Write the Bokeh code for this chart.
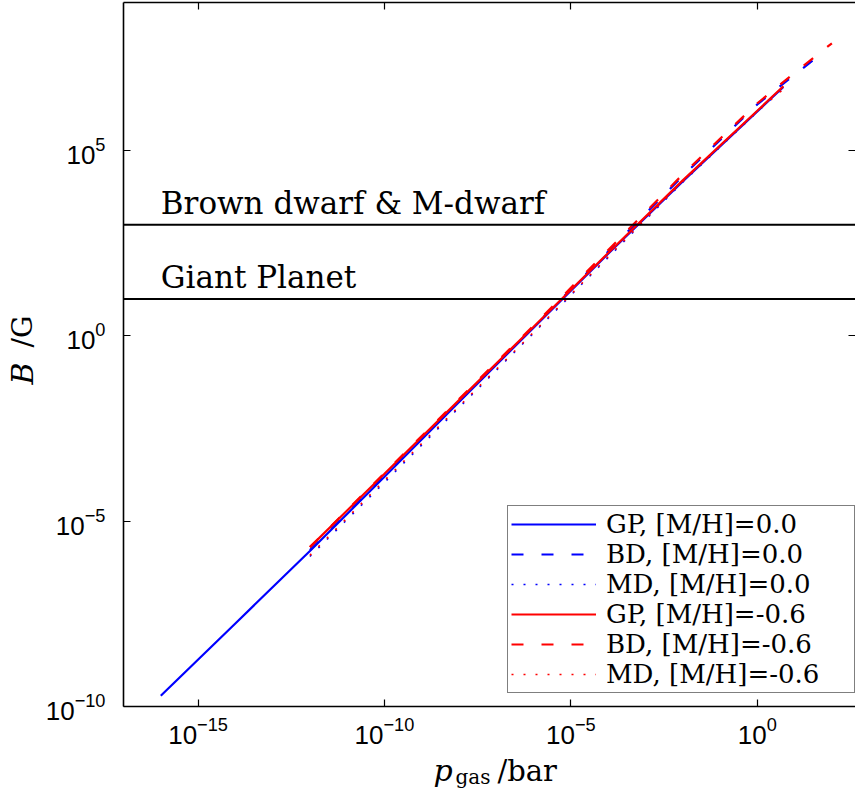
import math
from bokeh.plotting import figure
from bokeh.layouts import row, column
from bokeh.models import (Range1d, FixedTicker, LogAxis, Span, Label, Legend,
                          LegendItem, CustomJSTickFormatter)
from bokeh.core.properties import value
from bokeh.embed import file_html
from bokeh.resources import INLINE

# ---------------- data ----------------
# gas pressure / bar and field strength / G
p_gp0 = [1e-16, 1e-14, 1e-12, 1e-10, 1e-8, 1e-6, 1e-4, 1e-2, 1e0, 5e0]
B_gp0 = [1.95e-10, 1.74e-8, 1.58e-6, 1.58e-4, 1.66e-2, 1.66, 166, 1.48e4, 1.15e6, 5.25e6]

p_bd0 = [1e-12, 1e-10, 1e-8, 1e-6, 1e-4, 1e-2, 1e0, 1e1, 7e1]
B_bd0 = [1.66e-6, 1.66e-4, 1.70e-2, 1.74, 191, 2.09e4, 1.78e6, 1.12e7, 5.25e7]

p_md0 = [1e-12, 1e-10, 1e-8, 1e-6, 1e-4, 1e-2, 1e0, 5e0]
B_md0 = [1.12e-6, 1.12e-4, 1.17e-2, 1.20, 132, 1.41e4, 1.12e6, 5.0e6]

p_gp6 = [1e-12, 1e-10, 1e-8, 1e-6, 1e-4, 1e-2, 1e0, 5e0]
B_gp6 = [2.0e-6, 1.91e-4, 1.86e-2, 1.78, 174, 1.58e4, 1.20e6, 5.5e6]

p_bd6 = [1e-12, 1e-10, 1e-8, 1e-6, 1e-4, 1e-2, 1e0, 1e1, 1e2]
B_bd6 = [2.0e-6, 2.0e-4, 2.0e-2, 1.91, 209, 2.29e4, 1.91e6, 1.26e7, 7.94e7]

p_md6 = [1e-12, 1e-10, 1e-8, 1e-6, 1e-4, 1e-2, 1e0, 5e0]
B_md6 = [1.20e-6, 1.26e-4, 1.26e-2, 1.26, 138, 1.48e4, 1.17e6, 4.57e6]

series_labels = ["GP, [M/H]=0.0", "BD, [M/H]=0.0", "MD, [M/H]=0.0",
                 "GP, [M/H]=-0.6", "BD, [M/H]=-0.6", "MD, [M/H]=-0.6"]

field_levels = [1e3, 1e1]
field_names = ["Brown dwarf & M-dwarf", "Giant Planet"]
field_text_x = 1e-16

x_ticks = [1e-15, 1e-10, 1e-5, 1e0]
y_ticks = [1e-10, 1e-5, 1e0, 1e5]
x_lim = (1e-17, 4.3e2)
y_lim = (1e-10, 1e9)

# ---------------- geometry ----------------
SERIF = "DejaVu Serif"
SANS = "Liberation Sans"
LEFT_W = 42          # strip holding the y-axis title
MAIN_W = 855 - LEFT_W
MAIN_H = 754
BOTTOM_H = 35        # strip holding the x-axis title
TOTAL_H = MAIN_H + BOTTOM_H
FRAME_LEFT = 123     # page x of the plot frame's left edge
BORDER_L = FRAME_LEFT - LEFT_W

# ---------------- main plot ----------------
p = figure(width=MAIN_W, height=MAIN_H, x_axis_type="log", y_axis_type="log",
           x_range=Range1d(*x_lim), y_range=Range1d(*y_lim),
           output_backend="svg", toolbar_location=None,
           min_border_left=BORDER_L, min_border_right=0, min_border_top=2,
           min_border_bottom=48, outline_line_color=None,
           background_fill_color="white", border_fill_color="white")
p.grid.visible = False


def style_axis(ax, ticks, show_labels=True, show_line=True, standoff=10):
    ax.ticker = FixedTicker(ticks=ticks, minor_ticks=[])
    ax.major_tick_in = 7
    ax.major_tick_out = 0
    ax.minor_tick_in = 0
    ax.minor_tick_out = 0
    ax.major_tick_line_color = "black"
    ax.major_tick_line_width = 1.2
    ax.axis_line_width = 1.6
    ax.axis_line_color = "black" if show_line else None
    if show_labels:
        ax.major_label_text_font = SANS
        ax.major_label_text_font_size = "26px"
        ax.major_label_text_color = "black"
        ax.major_label_standoff = standoff
    else:
        ax.formatter = CustomJSTickFormatter(code="return '';")
        ax.major_label_text_font_size = "1px"
        ax.major_label_standoff = 0


style_axis(p.xaxis[0], x_ticks, standoff=10)
style_axis(p.yaxis[0], y_ticks, standoff=18)

top_axis = LogAxis()
style_axis(top_axis, x_ticks, show_labels=False)
p.add_layout(top_axis, "above")

right_axis = LogAxis()
style_axis(right_axis, y_ticks, show_labels=False, show_line=False)
p.add_layout(right_axis, "right")

# field strength reference levels
for lvl, name in zip(field_levels, field_names):
    p.add_layout(Span(location=lvl, dimension="width", line_color="black",
                      line_width=2))
    p.add_layout(Label(x=field_text_x, y=lvl, y_offset=22, text=name,
                       text_font=SERIF, text_font_size="31px",
                       text_color="black", text_align="left",
                       text_baseline="middle"))

# data lines
r_gp0 = p.line(p_gp0, B_gp0, line_color="#0000ff", line_width=2.2)
r_bd0 = p.line(p_bd0, B_bd0, line_color="#0000ff", line_width=2.2, line_dash="12 18")
r_md0 = p.line(p_md0, B_md0, line_color="#0000ff", line_width=1.6, line_dash="2 10")
r_gp6 = p.line(p_gp6, B_gp6, line_color="#ff0000", line_width=2.2)
r_bd6 = p.line(p_bd6, B_bd6, line_color="#ff0000", line_width=2.2, line_dash="12 18")
r_md6 = p.line(p_md6, B_md6, line_color="#ff0000", line_width=1.6, line_dash="2 10")

renderers = [r_gp0, r_bd0, r_md0, r_gp6, r_bd6, r_md6]
legend = Legend(items=[LegendItem(label=lab, renderers=[r])
                       for lab, r in zip(series_labels, renderers)],
                location=(384, 13), orientation="vertical",
                label_text_font=SERIF, label_text_font_size="26px",
                label_text_color="black", label_text_baseline="middle",
                border_line_color="black", border_line_width=1.5,
                background_fill_color="white", background_fill_alpha=1.0,
                padding=3, spacing=0, margin=0, label_height=30,
                label_width=245, glyph_height=30, glyph_width=85,
                label_standoff=10)
p.add_layout(legend)

# ---------------- y-axis title strip ----------------
ly = figure(width=LEFT_W, height=TOTAL_H, x_range=Range1d(0, LEFT_W),
            y_range=Range1d(0, TOTAL_H), output_backend="svg",
            toolbar_location=None, x_axis_location=None, y_axis_location=None,
            min_border=0, min_border_left=0, min_border_right=0,
            min_border_top=0, min_border_bottom=0, outline_line_color=None,
            background_fill_color="white", border_fill_color="white")
ly.grid.visible = False
ly.text(x=[22], y=[TOTAL_H - 373], text=["B"], angle=math.pi / 2,
        text_font=value(SERIF), text_font_style="italic",
        text_font_size=value("30px"), text_align="center",
        text_baseline="middle", text_color="black")
ly.text(x=[22], y=[TOTAL_H - 331], text=["/G"], angle=math.pi / 2,
        text_font=value(SERIF), text_font_size=value("28px"),
        text_align="center", text_baseline="middle", text_color="black")

# ---------------- x-axis title strip ----------------
# its frame is given the same left border as the main plot, so x is page px
bx = figure(width=MAIN_W, height=BOTTOM_H, x_range=Range1d(FRAME_LEFT, LEFT_W + MAIN_W),
            y_range=Range1d(0, BOTTOM_H), output_backend="svg",
            toolbar_location=None, x_axis_location=None, y_axis_location=None,
            min_border=0, min_border_left=BORDER_L, min_border_right=0,
            min_border_top=0, min_border_bottom=0, outline_line_color=None,
            background_fill_color="white", border_fill_color="white")
bx.grid.visible = False
bx.text(x=[433], y=[TOTAL_H - 770], text=["p"], text_font=value(SERIF),
        text_font_style="italic", text_font_size=value("30px"),
        text_align="left", text_baseline="middle", text_color="black")
bx.text(x=[455], y=[TOTAL_H - 776], text=["gas"], text_font=value(SERIF),
        text_font_size=value("20px"), text_align="left",
        text_baseline="middle", text_color="black")
bx.text(x=[497], y=[TOTAL_H - 770], text=["/bar"], text_font=value(SERIF),
        text_font_size=value("29px"), text_align="left",
        text_baseline="middle", text_color="black")

layout = row(ly, column(p, bx, spacing=0), spacing=0)

open("out.html", "w").write(file_html(layout, INLINE))
